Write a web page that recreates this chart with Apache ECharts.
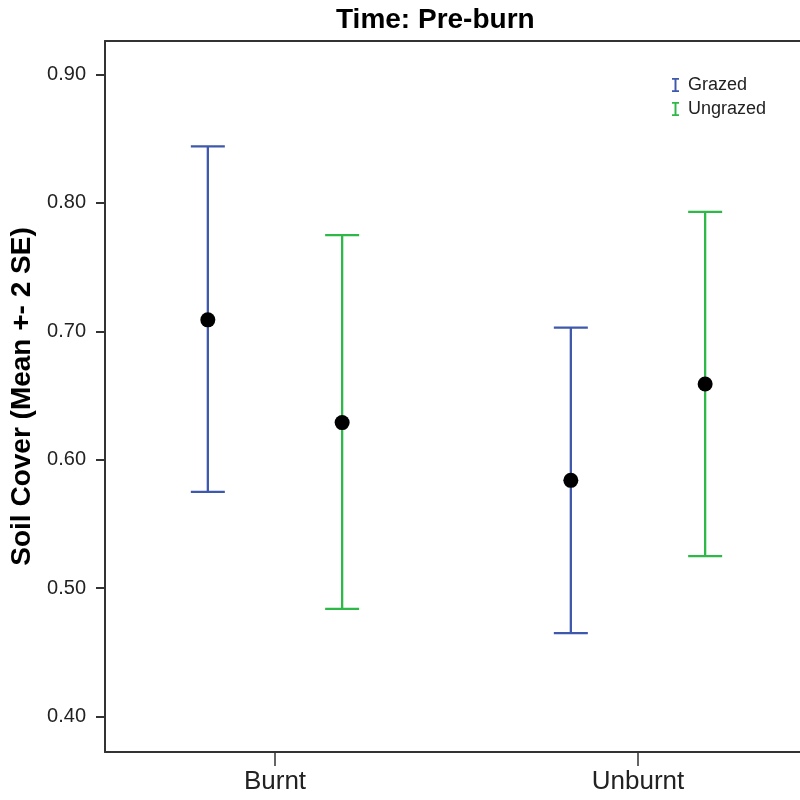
<!DOCTYPE html>
<html>
<head>
<meta charset="utf-8">
<script src="https://cdn.jsdelivr.net/npm/echarts@6/dist/echarts.min.js"></script>
<style>html,body{margin:0;padding:0;background:#fff}#c{width:800px;height:800px}</style>
</head>
<body>
<div id="c"></div>
<script>
const categories = ['Burnt', 'Unburnt'];
const groups = ['Grazed', 'Ungrazed'];
const grazedMean = [0.709, 0.584];
const grazedLow = [0.575, 0.465];
const grazedHigh = [0.844, 0.703];
const ungrazedMean = [0.629, 0.659];
const ungrazedLow = [0.484, 0.525];
const ungrazedHigh = [0.775, 0.793];
const yTicks = [0.40, 0.50, 0.60, 0.70, 0.80, 0.90];
const title = 'Time: Pre-burn';
const yName = 'Soil Cover (Mean +- 2 SE)';

const FONT = "'Liberation Sans', Arial, sans-serif";
const colors = ['#3E58AC', '#2EB848'];
const offsets = [-0.185, 0.185];
const capHalf = 17;

function barData(g, low, high) {
  return categories.map((c, i) => [i + 1 + offsets[g], low[i], high[i]]);
}
function meanData(g, mean) {
  return categories.map((c, i) => [i + 1 + offsets[g], mean[i]]);
}

function renderErr(params, api) {
  const x = api.value(0);
  const lo = api.coord([x, api.value(1)]);
  const hi = api.coord([x, api.value(2)]);
  const style = { stroke: api.visual('color'), lineWidth: 2.3, fill: null };
  return {
    type: 'group',
    children: [
      { type: 'line', shape: { x1: lo[0], y1: lo[1], x2: hi[0], y2: hi[1] }, style },
      { type: 'line', shape: { x1: hi[0] - capHalf, y1: hi[1], x2: hi[0] + capHalf, y2: hi[1] }, style },
      { type: 'line', shape: { x1: lo[0] - capHalf, y1: lo[1], x2: lo[0] + capHalf, y2: lo[1] }, style }
    ]
  };
}

const chart = echarts.init(document.getElementById('c'), null, { renderer: 'canvas' });
chart.setOption({
  backgroundColor: '#fff',
  animation: false,
  textStyle: { fontFamily: FONT },
  title: {
    text: title, left: 331, top: 1,
    textStyle: { fontSize: 28, fontWeight: 'bold', color: '#000', fontFamily: FONT }
  },
  legend: {
    data: groups, orient: 'vertical', left: 667, top: 71,
    itemWidth: 7, itemHeight: 15, itemGap: 6,
    icon: 'path://M0,0H10V2.6H6.4V17.4H10V20H0V17.4H3.6V2.6H0Z',
    textStyle: { fontSize: 18, color: '#222', fontFamily: FONT, padding: [0, 0, 0, 4] }
  },
  grid: { left: 105, right: 0, top: 41, bottom: 48, containLabel: false },
  xAxis: [{
    type: 'value', min: 0.5317, max: 2.4463,
    splitLine: { show: false },
    axisLine: { show: true, onZero: false, lineStyle: { color: '#333', width: 2 } },
    axisTick: { show: true, length: 14, lineStyle: { color: '#333', width: 1.5 }, customValues: [1, 2] },
    axisLabel: {
      customValues: [1, 2], fontSize: 26, color: '#222', margin: 17, fontFamily: FONT,
      formatter: v => categories[Math.round(v) - 1] || ''
    }
  }, {
    type: 'value', position: 'top', min: 0.5317, max: 2.4463,
    splitLine: { show: false },
    axisLine: { show: true, onZero: false, lineStyle: { color: '#333', width: 2 } },
    axisTick: { show: false }, axisLabel: { show: false }
  }],
  yAxis: {
    type: 'value', min: 0.3725, max: 0.9261,
    name: yName, nameLocation: 'middle', nameGap: 66,
    nameTextStyle: { fontSize: 28, fontWeight: 'bold', color: '#000', fontFamily: FONT },
    splitLine: { show: false },
    axisLine: { show: true, onZero: false, lineStyle: { color: '#333', width: 2 } },
    axisTick: { show: true, length: 9, lineStyle: { color: '#333', width: 2 }, customValues: yTicks },
    axisLabel: {
      customValues: yTicks, fontSize: 20, color: '#222', margin: 19, fontFamily: FONT,
      formatter: v => v.toFixed(2)
    }
  },
  series: [
    { name: groups[0], type: 'custom', renderItem: renderErr, itemStyle: { color: colors[0] },
      encode: { x: 0, y: [1, 2] }, data: barData(0, grazedLow, grazedHigh), z: 2 },
    { name: groups[1], type: 'custom', renderItem: renderErr, itemStyle: { color: colors[1] },
      encode: { x: 0, y: [1, 2] }, data: barData(1, ungrazedLow, ungrazedHigh), z: 2 },
    { name: 'mean-' + groups[0], type: 'scatter', symbolSize: 15, itemStyle: { color: '#000', opacity: 1 },
      data: meanData(0, grazedMean), z: 5 },
    { name: 'mean-' + groups[1], type: 'scatter', symbolSize: 15, itemStyle: { color: '#000', opacity: 1 },
      data: meanData(1, ungrazedMean), z: 5 }
  ]
});
</script>
</body>
</html>
